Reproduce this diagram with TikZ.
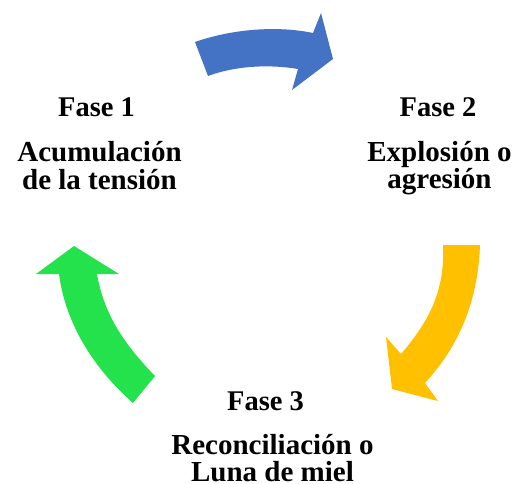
\documentclass[tikz,border=0pt]{standalone}
\usepackage{fontspec}
\setmainfont{Liberation Serif}
\usepackage{tikz}
\definecolor{faseblue}{RGB}{68,114,196}
\definecolor{faseyellow}{RGB}{255,192,0}
\definecolor{fasegreen}{RGB}{36,226,76}

\begin{document}
\begin{tikzpicture}[x=1pt,y=-1pt,
    fasetitle/.style={anchor=base, inner sep=0pt, font=\fontsize{28.5}{27.5}\selectfont\bfseries},
    fasetext/.style={anchor=base, inner sep=0pt, align=center, font=\fontsize{29}{27.5}\selectfont\bfseries}]
                \useasboundingbox (0,0) rectangle (514,484);

                % Arrows
                \fill[faseblue] (195,42) .. controls (235,28) and (280,26) .. (313,33) -- (321,13) -- (333,59)
                    -- (292,90) -- (298,69) .. controls (268,64) and (235,66) .. (208,76) -- cycle;
                \fill[faseyellow] (443,245) -- (480,245) .. controls (478,300) and (460,345) .. (425,383)
                    -- (438,401) -- (392,389) -- (386,337) -- (401,354) .. controls (430,320) and (445,290) .. (443,245) -- cycle;
                \fill[fasegreen] (155,376) -- (133,403) .. controls (90,365) and (65,320) .. (59,274)
                    -- (36,274) -- (74,246) -- (119,274) -- (97,274) .. controls (104,315) and (125,345) .. (155,376) -- cycle;

                % Phases (base of a two-line node = last line)
                \node[fasetitle] (fase1) at (96.5,116.7) {Fase 1};
                \node[fasetext] (texto1) at (99.5,189.3) {Acumulación\\de la tensión};
                \node[fasetitle] (fase2) at (438,116.7) {Fase 2};
                \node[fasetext] (texto2) at (439.5,189) {Explosión o\\agresión};
                \node[fasetitle] (fase3) at (265.5,410.7) {Fase 3};
                \node[fasetext] (texto3) at (272.5,481.7) {Reconciliación o\\Luna de miel};
            \end{tikzpicture}
\end{document}
